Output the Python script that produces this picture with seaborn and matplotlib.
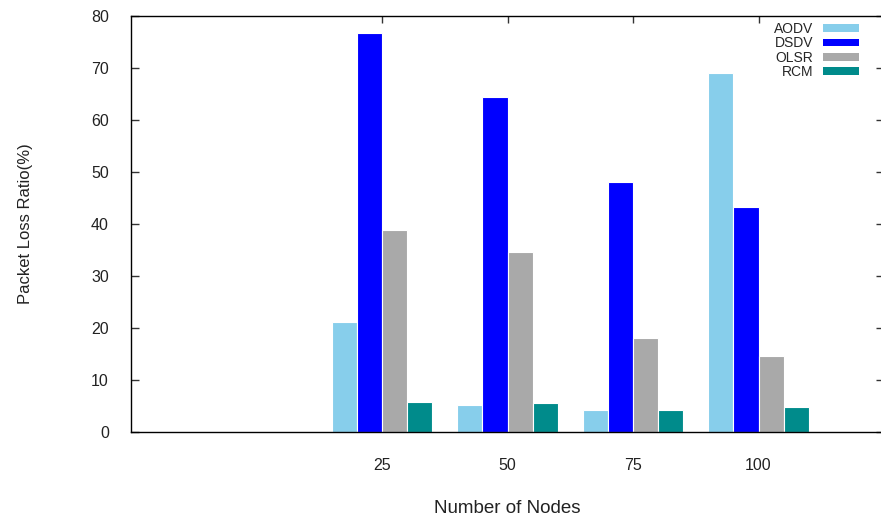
import matplotlib
matplotlib.use("Agg")
import matplotlib.pyplot as plt
from matplotlib.patches import Patch
import seaborn as sns
import pandas as pd

# Packet loss ratio (%) per routing protocol and network size
nodes = ["25", "50", "75", "100"]
protocols = ["AODV", "DSDV", "OLSR", "RCM"]
aodv = [21.2, 5.2, 4.2, 69.0]
dsdv = [76.7, 64.4, 48.1, 43.3]
olsr = [38.8, 34.6, 18.1, 14.7]
rcm = [5.8, 5.6, 4.2, 4.9]
colors = ["#87CEEB", "#0000FF", "#A9A9A9", "#008B8B"]

series = {"AODV": aodv, "DSDV": dsdv, "OLSR": olsr, "RCM": rcm}
rows = []
for proto in protocols:
    for n, v in zip(nodes, series[proto]):
        rows.append({"Nodes": n, "Protocol": proto, "Loss": v})
df = pd.DataFrame(rows)

sns.set_style("white")
plt.rcParams["font.family"] = ["Liberation Sans", "DejaVu Sans"]

fig = plt.figure(figsize=(8.81, 5.25), dpi=100)
W, H = 881, 525
left, right, top, bottom = 131, 884, 16, 432
ax = fig.add_axes([left / W, 1 - bottom / H, (right - left) / W, (bottom - top) / H])

sns.barplot(data=df, x="Nodes", y="Loss", hue="Protocol", order=nodes,
            hue_order=protocols, palette=colors, width=0.8, dodge=True,
            edgecolor="white", linewidth=0.8, saturation=1, errorbar=None,
            legend=False, ax=ax)

ax.set_xlim(-2, 4)
ax.set_ylim(0, 80)
ax.set_yticks(range(0, 81, 10))
ax.set_xticks(range(len(nodes)))
ax.set_xticklabels(nodes)

for s in ax.spines.values():
    s.set_color("black")
    s.set_linewidth(1.0)
    s.set_visible(True)

ax.tick_params(axis="both", direction="in", length=6, width=1, color="#333333",
               labelsize=11.5, labelcolor="#222222")
ax.tick_params(axis="y", right=True, left=True, pad=16)
ax.tick_params(axis="x", top=True, bottom=True, length=5, pad=19)

ax.set_xlabel("Number of Nodes", fontsize=13.5, color="#222222", labelpad=19)
ax.set_ylabel("Packet Loss Ratio(%)", fontsize=12, color="#222222", labelpad=42)

handles = [Patch(facecolor=c, edgecolor="none") for c in colors]
ax.legend(handles, protocols, loc="upper right",
          bbox_to_anchor=(859 / W, 1 - 22 / H), bbox_transform=fig.transFigure,
          frameon=False, markerfirst=False, fontsize=10, handlelength=2.6,
          handleheight=0.5, labelspacing=0.03, handletextpad=0.7,
          borderpad=0.0, borderaxespad=0.0)

fig.savefig("out.png", dpi=100)
